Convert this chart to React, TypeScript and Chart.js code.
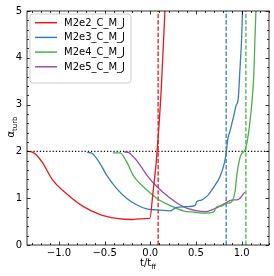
import React, { useEffect, useRef } from 'react';
import { Chart, registerables } from 'chart.js';
Chart.register(...registerables);

const FONT = '"DejaVu Sans", Verdana, sans-serif';

const seriesLabels = ['M2e2_C_M_J', 'M2e3_C_M_J', 'M2e4_C_M_J', 'M2e5_C_M_J'];
const seriesColors = ['#e41a1c', '#377eb8', '#4daf4a', '#984ea3'];

const redX = [-1.354, -1.3, -1.25, -1.18, -1.07, -0.92, -0.74, -0.55, -0.37, -0.2, -0.11, -0.005, 0.03, 0.068, 0.12, 0.16];
const redY = [2.0, 1.99, 1.93, 1.76, 1.39, 1.1, 0.83, 0.65, 0.57, 0.545, 0.56, 0.57, 1.13, 1.84, 3.33, 5.0];

const blueX = [-0.69, -0.64, -0.55, -0.48, -0.37, -0.26, -0.15, -0.04, 0.07, 0.22, 0.27, 0.4, 0.49, 0.51, 0.56, 0.63, 0.71, 0.76, 0.81, 0.835, 0.846, 0.875, 0.915, 0.94, 0.963, 0.98, 1.0, 1.01];
const blueY = [1.98, 1.96, 1.74, 1.5, 1.21, 1.0, 0.86, 0.77, 0.75, 0.73, 0.79, 0.82, 0.84, 0.93, 0.96, 1.06, 1.28, 1.45, 1.74, 2.02, 2.23, 2.45, 2.77, 2.98, 3.12, 3.69, 4.4, 5.0];

const greenX = [-0.41, -0.33, -0.26, -0.19, -0.15, -0.04, 0.07, 0.22, 0.36, 0.49, 0.6, 0.69, 0.73, 0.78, 0.835, 0.89, 0.93, 0.945, 0.975, 1.0, 1.035, 1.06, 1.11, 1.135, 1.146, 1.157];
const greenY = [1.97, 1.97, 1.78, 1.5, 1.39, 1.18, 1.0, 0.84, 0.73, 0.7, 0.68, 0.7, 0.82, 0.83, 0.89, 0.92, 1.17, 1.45, 1.81, 1.95, 2.02, 2.2, 2.98, 3.69, 4.4, 5.0];

const purpleX = [-0.29, -0.23, -0.19, -0.15, -0.04, 0.07, 0.22, 0.36, 0.49, 0.6, 0.71, 0.82, 0.89, 0.96, 1.035];
const purpleY = [1.99, 1.97, 1.89, 1.81, 1.5, 1.25, 1.0, 0.82, 0.74, 0.71, 0.78, 0.89, 0.96, 0.97, 1.13];

const vlineX = [0.086, 0.831, 1.047];
const hlineY = 2.0;

const xMajorTicks = [-1.0, -0.5, 0.0, 0.5, 1.0];
const yMajorTicks = [0, 1, 2, 3, 4, 5];

const X_MIN = -1.35;
const X_MAX = 1.3;
const Y_MIN = 0;
const Y_MAX = 5;

const zip = (xs: number[], ys: number[]) => xs.map((x, i) => ({ x, y: ys[i] }));

const framePlugin = {
  id: 'frameTicks',
  afterDatasetsDraw(chart: any) {
    const { ctx, chartArea: a, scales } = chart;
    const xs = scales.x;
    const ys = scales.y;
    ctx.save();
    ctx.strokeStyle = '#000';
    ctx.lineWidth = 0.8;
    ctx.beginPath();
    // x ticks (major + minor), inward, top and bottom
    for (let i = Math.ceil(X_MIN * 10); i <= Math.floor(X_MAX * 10); i++) {
      const v = i / 10;
      const px = Math.round(xs.getPixelForValue(v)) + 0.5;
      const major = i % 5 === 0;
      const len = major ? 3.5 : 2;
      ctx.moveTo(px, a.bottom);
      ctx.lineTo(px, a.bottom - len);
      ctx.moveTo(px, a.top);
      ctx.lineTo(px, a.top + len);
    }
    for (let i = 0; i <= 25; i++) {
      const v = i / 5;
      const py = Math.round(ys.getPixelForValue(v)) + 0.5;
      const major = i % 5 === 0;
      const len = major ? 3.5 : 2;
      ctx.moveTo(a.left, py);
      ctx.lineTo(a.left + len, py);
      ctx.moveTo(a.right, py);
      ctx.lineTo(a.right - len, py);
    }
    ctx.stroke();
    ctx.strokeRect(a.left, a.top, a.right - a.left, a.bottom - a.top);

    // legend
    const lx = 30, ly = 14, lw = 101, lh = 69, r = 3;
    ctx.beginPath();
    ctx.moveTo(lx + r, ly);
    ctx.lineTo(lx + lw - r, ly);
    ctx.arcTo(lx + lw, ly, lx + lw, ly + r, r);
    ctx.lineTo(lx + lw, ly + lh - r);
    ctx.arcTo(lx + lw, ly + lh, lx + lw - r, ly + lh, r);
    ctx.lineTo(lx + r, ly + lh);
    ctx.arcTo(lx, ly + lh, lx, ly + lh - r, r);
    ctx.lineTo(lx, ly + r);
    ctx.arcTo(lx, ly, lx + r, ly, r);
    ctx.closePath();
    ctx.fillStyle = 'rgba(255,255,255,0.8)';
    ctx.fill();
    ctx.strokeStyle = '#cccccc';
    ctx.lineWidth = 1;
    ctx.stroke();
    ctx.font = `10px ${FONT}`;
    ctx.textBaseline = 'middle';
    ctx.textAlign = 'left';
    for (let i = 0; i < seriesLabels.length; i++) {
      const yy = 22.7 + i * 14.7;
      ctx.strokeStyle = seriesColors[i];
      ctx.lineWidth = 1.5;
      ctx.beginPath();
      ctx.moveTo(35, yy);
      ctx.lineTo(57, yy);
      ctx.stroke();
      ctx.fillStyle = '#000';
      ctx.fillText(seriesLabels[i], 64, yy + 0.5);
    }

    // axis titles with subscripts
    ctx.fillStyle = '#000';
    ctx.textBaseline = 'alphabetic';
    ctx.font = `10px ${FONT}`;
    const mainX = 't/t';
    const subX = 'ff';
    const wMain = ctx.measureText(mainX).width;
    ctx.font = `7px ${FONT}`;
    const wSub = ctx.measureText(subX).width;
    const cx = (a.left + a.right) / 2;
    const startX = cx - (wMain + wSub) / 2;
    ctx.font = `10px ${FONT}`;
    ctx.fillText(mainX, startX, 266);
    ctx.font = `7px ${FONT}`;
    ctx.fillText(subX, startX + wMain, 268.5);

    ctx.save();
    ctx.translate(14, (a.top + a.bottom) / 2 - 1);
    ctx.rotate(-Math.PI / 2);
    ctx.font = `10px ${FONT}`;
    const mainY = '\u03b1';
    const subY = 'turb';
    const wm = ctx.measureText(mainY).width;
    ctx.font = `7px ${FONT}`;
    const ws = ctx.measureText(subY).width;
    const sx = -(wm + ws) / 2;
    ctx.font = `10px ${FONT}`;
    ctx.fillText(mainY, sx, 0);
    ctx.font = `7px ${FONT}`;
    ctx.fillText(subY, sx + wm, 2.5);
    ctx.restore();

    ctx.restore();
  },
};

export default function App() {
  const ref = useRef<HTMLCanvasElement>(null);
  useEffect(() => {
    document.body.style.margin = '0';
    const canvas = ref.current!;
    const lineDs = (label: string, color: string, xs: number[], ys: number[]) => ({
      label,
      data: zip(xs, ys),
      borderColor: color,
      backgroundColor: color,
      borderWidth: 1.3,
      pointRadius: 0,
      cubicInterpolationMode: 'monotone' as const,
      fill: false,
    });
    const vColors = [seriesColors[0], seriesColors[1], seriesColors[2]];
    const chart = new Chart(canvas, {
      type: 'line',
      data: {
        datasets: [
          lineDs(seriesLabels[0], seriesColors[0], redX, redY),
          lineDs(seriesLabels[1], seriesColors[1], blueX, blueY),
          lineDs(seriesLabels[2], seriesColors[2], greenX, greenY),
          lineDs(seriesLabels[3], seriesColors[3], purpleX, purpleY),
          ...vlineX.map((vx, i) => ({
            label: 'v' + i,
            data: [{ x: vx, y: Y_MIN }, { x: vx, y: Y_MAX }],
            borderColor: vColors[i],
            borderWidth: 1.3,
            borderDash: [4.4, 1.9],
            pointRadius: 0,
            fill: false,
          })),
          {
            label: 'h',
            data: [{ x: X_MIN, y: hlineY }, { x: X_MAX, y: hlineY }],
            borderColor: '#000',
            borderWidth: 1.2,
            borderDash: [1.2, 2],
            pointRadius: 0,
            fill: false,
          },
        ],
      },
      options: {
        animation: false,
        responsive: true,
        maintainAspectRatio: false,
        parsing: false as any,
        layout: { padding: { left: 0, top: 10, right: 5, bottom: 0 } },
        plugins: {
          legend: { display: false },
          tooltip: { enabled: false },
        },
        scales: {
          x: {
            type: 'linear',
            min: X_MIN,
            max: X_MAX,
            grid: { display: false, drawTicks: false },
            border: { display: false },
            afterBuildTicks: (s: any) => {
              s.ticks = xMajorTicks.map((v) => ({ value: v }));
            },
            afterFit: (s: any) => {
              s.height = 31;
            },
            ticks: {
              autoSkip: false,
              maxRotation: 0,
              padding: 2,
              color: '#000',
              font: { family: FONT, size: 10 },
              callback: (v: any) => Number(v).toFixed(1).replace('-', '\u2212'),
            },
          },
          y: {
            type: 'linear',
            min: Y_MIN,
            max: Y_MAX,
            grid: { display: false, drawTicks: false },
            border: { display: false },
            afterBuildTicks: (s: any) => {
              s.ticks = yMajorTicks.map((v) => ({ value: v }));
            },
            afterFit: (s: any) => {
              s.width = 27;
            },
            ticks: {
              padding: 5,
              color: '#000',
              font: { family: FONT, size: 10 },
              callback: (v: any) => String(v),
            },
          },
        },
      },
      plugins: [framePlugin],
    });
    return () => chart.destroy();
  }, []);
  return (
    <div style={{ position: 'relative', width: 274, height: 276 }}>
      <canvas ref={ref} />
    </div>
  );
}
